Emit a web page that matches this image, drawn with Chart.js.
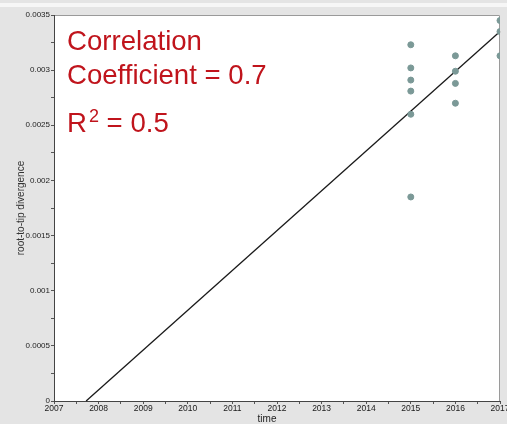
<!DOCTYPE html>
<html>
<head>
<meta charset="utf-8">
<script src="https://cdn.jsdelivr.net/npm/chart.js@4"></script>
<style>
  html, body { margin: 0; padding: 0; background: #e4e4e4; }
  #wrap { width: 507px; height: 424px; }
</style>
</head>
<body>
<div id="wrap"><canvas id="chart" width="507" height="424"></canvas></div>
<script>
// sampling year of each tip and its root-to-tip divergence
const sampleYears = [2015, 2015, 2015, 2015, 2015, 2015, 2016, 2016, 2016, 2016, 2017, 2017, 2017];
const divergence = [0.00323, 0.00302, 0.00291, 0.00281, 0.00260, 0.00185,
                    0.00313, 0.00299, 0.00288, 0.00270, 0.00345, 0.00335, 0.00313];

// regression line end points
const fitYears = [2007.72, 2017];
const fitValues = [0, 0.00335];

const statLines = ["Correlation", "Coefficient = 0.7"];
const r2Text = ["R", "2", " = 0.5"];
const xTitle = "time";
const yTitle = "root-to-tip divergence";

const points = sampleYears.map((x, i) => ({ x: x, y: divergence[i] }));
const fitLine = fitYears.map((x, i) => ({ x: x, y: fitValues[i] }));

const tickFont = { family: "Liberation Sans", size: 8 };
const bigFont = "27.6px 'Liberation Sans'";

const backdrop = {
  id: "backdrop",
  beforeDraw(chart) {
    const ctx = chart.ctx;
    const a = chart.chartArea;
    ctx.save();
    ctx.fillStyle = "#e4e4e4";
    ctx.fillRect(0, 0, chart.width, chart.height);
    ctx.fillStyle = "#f6f6f6";
    ctx.fillRect(0, 3, chart.width, 4);
    ctx.fillStyle = "#ffffff";
    ctx.fillRect(a.left, a.top, a.right - a.left, a.bottom - a.top);
    ctx.strokeStyle = "#9a9a9a";
    ctx.lineWidth = 1;
    ctx.beginPath();
    ctx.moveTo(a.left, a.top + 0.5);
    ctx.lineTo(a.right - 0.5, a.top + 0.5);
    ctx.lineTo(a.right - 0.5, a.bottom);
    ctx.stroke();
    ctx.restore();
  },
  afterDraw(chart) {
    const ctx = chart.ctx;
    ctx.save();
    // x axis title, a little left of centre like the original
    ctx.fillStyle = "#222";
    ctx.font = "10px 'Liberation Sans'";
    ctx.textAlign = "center";
    ctx.textBaseline = "middle";
    ctx.fillText(xTitle, 267, 419);

    ctx.textAlign = "left";
    ctx.textBaseline = "alphabetic";
    ctx.fillStyle = "#c0141c";
    ctx.font = bigFont;
    ctx.fillText(statLines[0], 67, 50);
    ctx.fillText(statLines[1], 67, 84);
    let x = 67;
    ctx.fillText(r2Text[0], x, 132);
    x += ctx.measureText(r2Text[0]).width + 2;
    ctx.font = "18px 'Liberation Sans'";
    ctx.fillText(r2Text[1], x, 122);
    x += ctx.measureText(r2Text[1]).width;
    ctx.font = bigFont;
    ctx.fillText(r2Text[2], x, 132);
    ctx.restore();
  }
};

new Chart(document.getElementById("chart"), {
  type: "scatter",
  data: {
    datasets: [
      {
        label: "tips",
        data: points,
        backgroundColor: "#7b9997",
        borderColor: "#7b9997",
        pointRadius: 3,
        pointHoverRadius: 3,
      },
      {
        label: "fit",
        type: "line",
        data: fitLine,
        borderColor: "#1a1a1a",
        borderWidth: 1.3,
        pointRadius: 0,
        fill: false,
        clip: false,
      },
    ],
  },
  options: {
    responsive: false,
    animation: false,
    events: [],
    layout: { padding: { left: 0, top: 15, right: 7, bottom: 0 } },
    plugins: {
      legend: { display: false },
      tooltip: { enabled: false },
    },
    scales: {
      x: {
        type: "linear",
        min: 2007,
        max: 2017,
        afterFit(scale) {
          scale.height = 23;
          scale.paddingLeft = 0;
          scale.paddingRight = 0;
        },
        ticks: {
          stepSize: 0.5,
          maxRotation: 0,
          autoSkip: false,
          padding: 0,
          color: "#1a1a1a",
          font: { family: "Liberation Sans", size: 8.5 },
          callback: (v) => (Number.isInteger(v) ? String(v) : ""),
        },
        grid: { drawOnChartArea: false, tickLength: 3, color: "#555" },
        border: { color: "#444", width: 1 },
      },
      y: {
        type: "linear",
        min: 0,
        max: 0.0035,
        afterFit(scale) {
          scale.width = 54;
        },
        ticks: {
          stepSize: 0.00025,
          autoSkip: false,
          padding: 1,
          color: "#222",
          font: tickFont,
          callback: (v) => {
            const k = v * 2000;
            if (Math.abs(k - Math.round(k)) > 1e-6) return "";
            return String(Number(v.toFixed(4)));
          },
        },
        grid: { drawOnChartArea: false, tickLength: 3, color: "#555" },
        border: { color: "#444", width: 1 },
        title: {
          display: true,
          text: yTitle,
          color: "#333",
          font: { family: "Liberation Sans", size: 10 },
          padding: { top: 15, bottom: 0 },
        },
      },
    },
  },
  plugins: [backdrop],
});
</script>
</body>
</html>
